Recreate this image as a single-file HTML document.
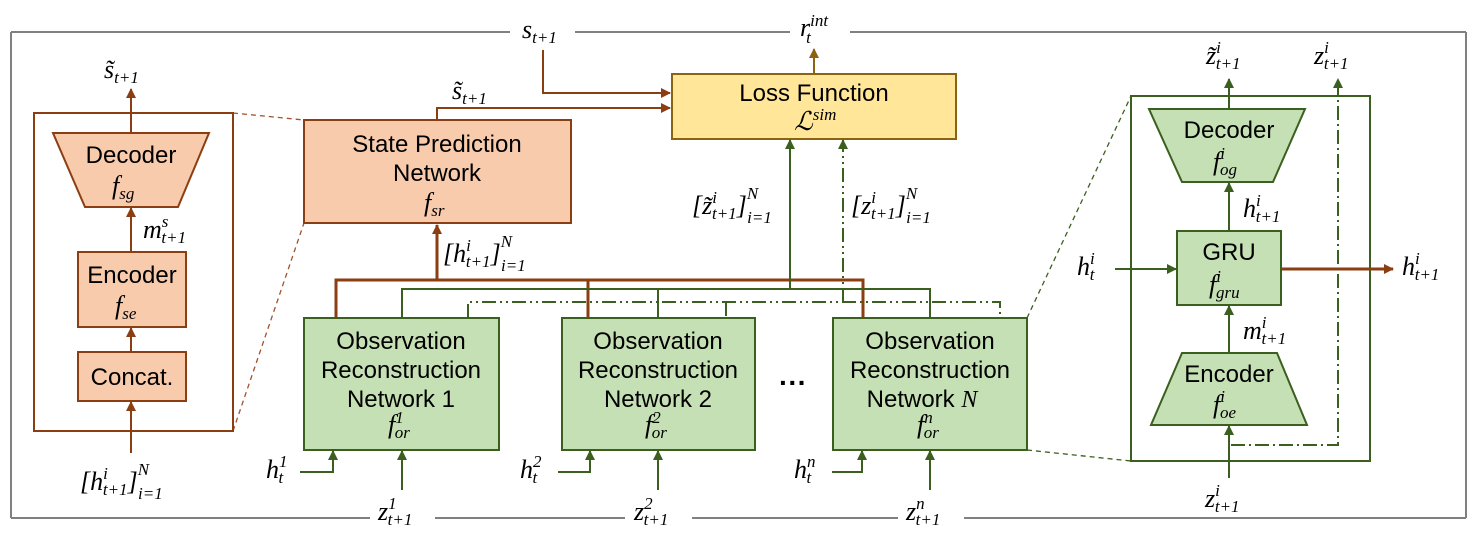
<!DOCTYPE html>
<html><head><meta charset="utf-8"><style>
html,body{margin:0;padding:0;background:#fff;}
svg{display:block;}
.lbl{font-family:"Liberation Sans",sans-serif;font-size:24px;fill:#000;text-anchor:middle;}
.m{font-family:"Liberation Serif","DejaVu Serif",serif;font-style:italic;font-size:26px;fill:#000;}
.s{font-size:17px;}
</style></head><body>
<svg width="1476" height="542" viewBox="0 0 1476 542" xmlns="http://www.w3.org/2000/svg">
<defs>
<marker id="ab" markerWidth="10" markerHeight="10" refX="9" refY="5" orient="auto" markerUnits="userSpaceOnUse"><path d="M0,0 L10,5 L0,10 z" fill="#8B3E12"/></marker>
<marker id="ag" markerWidth="10" markerHeight="10" refX="9" refY="5" orient="auto" markerUnits="userSpaceOnUse"><path d="M0,0 L10,5 L0,10 z" fill="#3A5F1E"/></marker>
<marker id="ay" markerWidth="10" markerHeight="10" refX="9" refY="5" orient="auto" markerUnits="userSpaceOnUse"><path d="M0,0 L10,5 L0,10 z" fill="#8B6410"/></marker>
</defs>

<g stroke="#808080" stroke-width="2" fill="none">
<line x1="11" y1="32" x2="11" y2="518"/>
<line x1="1466" y1="32" x2="1466" y2="518"/>
<line x1="11" y1="32" x2="510" y2="32"/>
<line x1="575" y1="32" x2="790" y2="32"/>
<line x1="850" y1="32" x2="1466" y2="32"/>
<line x1="11" y1="518" x2="370" y2="518"/>
<line x1="435" y1="518" x2="625" y2="518"/>
<line x1="692" y1="518" x2="898" y2="518"/>
<line x1="964" y1="518" x2="1466" y2="518"/>
</g>

<g stroke="#A0522D" stroke-width="1.3" stroke-dasharray="5,4" fill="none">
<line x1="233" y1="113" x2="304" y2="120"/>
<line x1="233" y1="431" x2="304" y2="223"/>
</g>
<g stroke="#3A5F1E" stroke-width="1.3" stroke-dasharray="5,4" fill="none">
<line x1="1027" y1="318" x2="1131" y2="96"/>
<line x1="1027" y1="450" x2="1131" y2="461"/>
</g>

<!-- LEFT PANEL -->
<rect x="34" y="113" width="199" height="318" fill="none" stroke="#8B3E12" stroke-width="2"/>
<polygon points="53,133 209,133 178,207 85,207" fill="#F8CBAD" stroke="#8B3E12" stroke-width="2"/>
<rect x="78" y="252" width="108" height="75" fill="#F8CBAD" stroke="#8B3E12" stroke-width="2"/>
<rect x="78" y="352" width="108" height="49" fill="#F8CBAD" stroke="#8B3E12" stroke-width="2"/>
<g stroke="#8B3E12" stroke-width="2" fill="none">
<line x1="131" y1="133" x2="131" y2="89" marker-end="url(#ab)"/>
<line x1="131" y1="252" x2="131" y2="208" marker-end="url(#ab)"/>
<line x1="131" y1="352" x2="131" y2="328" marker-end="url(#ab)"/>
<line x1="131" y1="453" x2="131" y2="402" marker-end="url(#ab)"/>
</g>
<text class="lbl" x="131" y="163">Decoder</text>
<text class="m" x="112" y="194">f<tspan class="s" dy="5">sg</tspan></text>
<text class="lbl" x="132" y="283">Encoder</text>
<text class="m" x="115" y="314">f<tspan class="s" dy="5">se</tspan></text>
<text class="lbl" x="132" y="385">Concat.</text>
<text class="m" x="104" y="78">s̃<tspan class="s" dy="5">t+1</tspan></text>
<text class="m" x="143" y="238">m<tspan class="s" dy="-11">s</tspan><tspan class="s" dx="-7" dy="16">t+1</tspan></text>
<text class="m" x="80" y="490">[h<tspan class="s" dy="-11">i</tspan><tspan class="s" dx="-5" dy="16">t+1</tspan><tspan dy="-5">]</tspan><tspan class="s" dy="-15">N</tspan><tspan class="s" dx="-11" dy="24">i=1</tspan></text>

<!-- STATE PREDICTION -->
<rect x="304" y="120" width="267" height="103" fill="#F8CBAD" stroke="#8B3E12" stroke-width="2"/>
<text class="lbl" x="437" y="152">State Prediction</text>
<text class="lbl" x="437" y="181">Network</text>
<text class="m" x="424" y="211">f<tspan class="s" dy="5">sr</tspan></text>
<g stroke="#8B3E12" stroke-width="2" fill="none">
<polyline points="437,120 437,108 670,108" marker-end="url(#ab)"/>
<polyline points="543,50 543,93 670,93" marker-end="url(#ab)"/>
</g>
<text class="m" x="452" y="99">s̃<tspan class="s" dy="5">t+1</tspan></text>
<text class="m" x="522" y="38">s<tspan class="s" dy="5">t+1</tspan></text>
<text class="m" x="443" y="262">[h<tspan class="s" dy="-11">i</tspan><tspan class="s" dx="-5" dy="16">t+1</tspan><tspan dy="-5">]</tspan><tspan class="s" dy="-15">N</tspan><tspan class="s" dx="-11" dy="24">i=1</tspan></text>

<!-- LOSS -->
<rect x="672" y="74" width="284" height="65" fill="#FFE699" stroke="#8B6410" stroke-width="2"/>
<text class="lbl" x="814" y="101">Loss Function</text>
<text class="m" x="794" y="130">ℒ<tspan class="s" dy="-10">sim</tspan></text>
<line x1="814" y1="74" x2="814" y2="49" stroke="#8B6410" stroke-width="2" marker-end="url(#ay)"/>
<text class="m" x="800" y="36">r<tspan class="s" dy="-10">int</tspan><tspan class="s" dx="-22" dy="17">t</tspan></text>

<!-- buses -->
<g stroke="#8B3E12" stroke-width="3" fill="none">
<line x1="437" y1="280" x2="437" y2="225" marker-end="url(#ab)"/>
<polyline points="336,318 336,280 863,280 863,318"/>
<line x1="588" y1="280" x2="588" y2="318"/>
</g>
<g stroke="#3A5F1E" stroke-width="2" fill="none">
<polyline points="402,318 402,289 930,289 930,318"/>
<line x1="658" y1="289" x2="658" y2="318"/>
<line x1="790" y1="289" x2="790" y2="140" marker-end="url(#ag)"/>
</g>
<g stroke="#3A5F1E" stroke-width="2" fill="none" stroke-dasharray="14,4,2,4,2,4">
<polyline points="468,318 468,302 1000,302 1000,318"/>
<line x1="726" y1="302" x2="726" y2="318"/>
<line x1="843" y1="302" x2="843" y2="140" marker-end="url(#ag)"/>
</g>
<text class="m" x="692" y="214">[z̃<tspan class="s" dy="-11">i</tspan><tspan class="s" dx="-5" dy="16">t+1</tspan><tspan dy="-5">]</tspan><tspan class="s" dy="-15">N</tspan><tspan class="s" dx="-11" dy="24">i=1</tspan></text>
<text class="m" x="851" y="214">[z<tspan class="s" dy="-11">i</tspan><tspan class="s" dx="-5" dy="16">t+1</tspan><tspan dy="-5">]</tspan><tspan class="s" dy="-15">N</tspan><tspan class="s" dx="-11" dy="24">i=1</tspan></text>

<!-- OBS boxes -->
<g fill="#C5E0B4" stroke="#3A5F1E" stroke-width="2">
<rect x="304" y="318" width="195" height="132"/>
<rect x="562" y="318" width="193" height="132"/>
<rect x="833" y="318" width="194" height="132"/>
</g>
<text class="lbl" x="401" y="349">Observation</text>
<text class="lbl" x="401" y="378">Reconstruction</text>
<text class="lbl" x="401" y="407">Network 1</text>
<text class="m" x="388" y="433">f<tspan class="s" dy="-10">1</tspan><tspan class="s" dx="-9" dy="15">or</tspan></text>
<text class="lbl" x="658" y="349">Observation</text>
<text class="lbl" x="658" y="378">Reconstruction</text>
<text class="lbl" x="658" y="407">Network 2</text>
<text class="m" x="645" y="433">f<tspan class="s" dy="-10">2</tspan><tspan class="s" dx="-9" dy="15">or</tspan></text>
<text class="lbl" x="930" y="349">Observation</text>
<text class="lbl" x="918" y="378" x2="0"> </text>
<text class="lbl" x="930" y="378">Reconstruction</text>
<text class="lbl" x="922" y="407">Network <tspan font-family="Liberation Serif" font-style="italic">N</tspan></text>
<text class="m" x="917" y="433">f<tspan class="s" dy="-10">n</tspan><tspan class="s" dx="-9" dy="15">or</tspan></text>
<text class="lbl" x="793" y="392" style="font-size:28px;font-weight:bold">···</text>

<g stroke="#3A5F1E" stroke-width="2" fill="none">
<polyline points="300,472 333,472 333,451" marker-end="url(#ag)"/>
<polyline points="558,472 590,472 590,451" marker-end="url(#ag)"/>
<polyline points="832,472 862,472 862,451" marker-end="url(#ag)"/>
<line x1="402" y1="490" x2="402" y2="451" marker-end="url(#ag)"/>
<line x1="658" y1="490" x2="658" y2="451" marker-end="url(#ag)"/>
<line x1="930" y1="490" x2="930" y2="451" marker-end="url(#ag)"/>
</g>
<text class="m" x="266" y="478">h<tspan class="s" dy="-11">1</tspan><tspan class="s" dx="-9" dy="16">t</tspan></text>
<text class="m" x="520" y="478">h<tspan class="s" dy="-11">2</tspan><tspan class="s" dx="-9" dy="16">t</tspan></text>
<text class="m" x="794" y="478">h<tspan class="s" dy="-11">n</tspan><tspan class="s" dx="-9" dy="16">t</tspan></text>
<text class="m" x="378" y="520">z<tspan class="s" dy="-11">1</tspan><tspan class="s" dx="-9" dy="16">t+1</tspan></text>
<text class="m" x="634" y="520">z<tspan class="s" dy="-11">2</tspan><tspan class="s" dx="-9" dy="16">t+1</tspan></text>
<text class="m" x="906" y="520">z<tspan class="s" dy="-11">n</tspan><tspan class="s" dx="-9" dy="16">t+1</tspan></text>

<!-- RIGHT PANEL -->
<rect x="1131" y="96" width="239" height="365" fill="none" stroke="#3A5F1E" stroke-width="2"/>
<polygon points="1149,109 1305,109 1273,182 1182,182" fill="#C5E0B4" stroke="#3A5F1E" stroke-width="2"/>
<rect x="1177" y="231" width="104" height="74" fill="#C5E0B4" stroke="#3A5F1E" stroke-width="2"/>
<polygon points="1182,353 1277,353 1307,425 1151,425" fill="#C5E0B4" stroke="#3A5F1E" stroke-width="2"/>
<text class="lbl" x="1229" y="138">Decoder</text>
<text class="m" x="1213" y="170">f<tspan class="s" dy="-11">i</tspan><tspan class="s" dx="-5" dy="16">og</tspan></text>
<text class="lbl" x="1229" y="260">GRU</text>
<text class="m" x="1209" y="293">f<tspan class="s" dy="-11">i</tspan><tspan class="s" dx="-5" dy="16">gru</tspan></text>
<text class="lbl" x="1229" y="382">Encoder</text>
<text class="m" x="1213" y="413">f<tspan class="s" dy="-11">i</tspan><tspan class="s" dx="-5" dy="16">oe</tspan></text>
<g stroke="#3A5F1E" stroke-width="2" fill="none">
<line x1="1229" y1="109" x2="1229" y2="79" marker-end="url(#ag)"/>
<line x1="1229" y1="231" x2="1229" y2="183" marker-end="url(#ag)"/>
<line x1="1229" y1="353" x2="1229" y2="306" marker-end="url(#ag)"/>
<line x1="1229" y1="478" x2="1229" y2="426" marker-end="url(#ag)"/>
<line x1="1115" y1="269" x2="1176" y2="269" marker-end="url(#ag)"/>
</g>
<polyline points="1231,445 1338,445 1338,79" fill="none" stroke="#3A5F1E" stroke-width="2" stroke-dasharray="14,4,2,4" marker-end="url(#ag)"/>
<line x1="1281" y1="269" x2="1393" y2="269" stroke="#8B3E12" stroke-width="3" marker-end="url(#ab)"/>
<text class="m" x="1206" y="64">z̃<tspan class="s" dy="-11">i</tspan><tspan class="s" dx="-5" dy="16">t+1</tspan></text>
<text class="m" x="1314" y="64">z<tspan class="s" dy="-11">i</tspan><tspan class="s" dx="-5" dy="16">t+1</tspan></text>
<text class="m" x="1243" y="217">h<tspan class="s" dy="-11">i</tspan><tspan class="s" dx="-5" dy="16">t+1</tspan></text>
<text class="m" x="1243" y="339">m<tspan class="s" dy="-11">i</tspan><tspan class="s" dx="-5" dy="16">t+1</tspan></text>
<text class="m" x="1077" y="275">h<tspan class="s" dy="-11">i</tspan><tspan class="s" dx="-5" dy="16">t</tspan></text>
<text class="m" x="1402" y="275">h<tspan class="s" dy="-11">i</tspan><tspan class="s" dx="-5" dy="16">t+1</tspan></text>
<text class="m" x="1205" y="507">z<tspan class="s" dy="-11">i</tspan><tspan class="s" dx="-5" dy="16">t+1</tspan></text>
</svg>
</body></html>
